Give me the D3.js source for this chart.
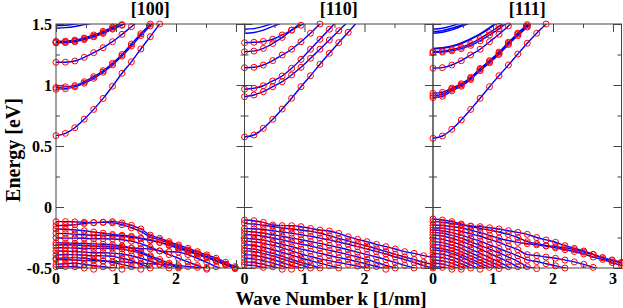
<!DOCTYPE html>
<html>
<head>
<meta charset="utf-8">
<script src="https://cdn.jsdelivr.net/npm/d3@7"></script>
<style>
body { margin: 0; background: #fff; }
text { font-family: "Liberation Serif", "Times New Roman", serif; font-weight: bold; fill: #000; }
</style>
</head>
<body>
<svg id="chart" width="623" height="308"></svg>
<script>
// k grid of the calculation, pi/20 step [1/nm]
var kGrid = [0, 0.157, 0.314, 0.471, 0.628, 0.785, 0.942, 1.1, 1.257, 1.414, 1.571,
    1.728, 1.885, 2.042, 2.199, 2.356, 2.513, 2.67, 2.827, 2.985, 3.142];

var panelNames = ["[100]", "[110]", "[111]"];
var yTicks = [-0.5, 0, 0.5, 1, 1.5];
var yTickLabels = ["-0.5", "0", "0.5", "1", "1.5"];
var xLabels = [[0, 1, 2], [0, 1, 2], [0, 1, 2, 3]];

// ---- [100] ----
var cond100 = [
    [0.585, 0.604, 0.65, 0.72, 0.80, 0.89, 0.99, 1.096, 1.19, 1.295, 1.396, 1.50, 1.60],
    [0.98, 0.985, 0.995, 1.027, 1.068, 1.117, 1.178, 1.25, 1.336, 1.42, 1.50, 1.58],
    [0.965, 0.97, 0.985, 1.015, 1.055, 1.105, 1.165, 1.237, 1.32, 1.405, 1.485, 1.57],
    [1.186, 1.187, 1.197, 1.227, 1.265, 1.306, 1.355, 1.415, 1.478, 1.54],
    [1.35, 1.352, 1.36, 1.38, 1.40, 1.43, 1.465, 1.495, 1.53],
    [1.358, 1.36, 1.368, 1.385, 1.41, 1.44, 1.475, 1.51],
    [1.345, 1.347, 1.355, 1.372, 1.395, 1.423, 1.458, 1.49, 1.53]
];
var plain100 = [
    [1.465, 1.47, 1.48, 1.495, 1.51],
    [1.488, 1.49, 1.5, 1.51]
];
var val100 = [
    [-0.12, -0.12, -0.122, -0.125, -0.128, -0.125, -0.12, -0.13, -0.15, -0.18, -0.23, -0.257, -0.284, -0.311, -0.339, -0.366, -0.393, -0.42, -0.453, -0.489, -0.52],
    [-0.153, -0.15, -0.145, -0.135, -0.128, -0.125, -0.13, -0.145, -0.17, -0.20, -0.245, -0.27, -0.297, -0.324, -0.352, -0.38, -0.407, -0.435, -0.468, -0.50],
    [-0.18, -0.182, -0.188, -0.195, -0.205, -0.215, -0.225, -0.232, -0.24, -0.255, -0.27, -0.29, -0.31, -0.335, -0.36, -0.385, -0.41, -0.44, -0.47, -0.50],
    [-0.216, -0.218, -0.222, -0.228, -0.232, -0.232, -0.235, -0.24, -0.25, -0.26, -0.275, -0.29, -0.315, -0.34, -0.365, -0.39, -0.415, -0.445, -0.475, -0.505],
    [-0.252, -0.255, -0.255, -0.258, -0.26, -0.26, -0.262, -0.268, -0.28, -0.30, -0.33, -0.36, -0.39, -0.42, -0.45, -0.48, -0.51],
    [-0.293, -0.295, -0.298, -0.30, -0.302, -0.305, -0.31, -0.32, -0.34, -0.37, -0.40, -0.43, -0.46, -0.49, -0.52],
    [-0.311, -0.31, -0.312, -0.315, -0.32, -0.322, -0.325, -0.33, -0.335, -0.34, -0.344, -0.36, -0.366, -0.37, -0.39, -0.42, -0.453, -0.489, -0.52],
    [-0.334, -0.335, -0.337, -0.34, -0.34, -0.338, -0.34, -0.345, -0.36, -0.38, -0.41, -0.448, -0.475, -0.50],
    [-0.36, -0.362, -0.365, -0.37, -0.375, -0.375, -0.378, -0.385, -0.40, -0.42, -0.445, -0.47, -0.50],
    [-0.393, -0.39, -0.39, -0.395, -0.40, -0.40, -0.405, -0.42, -0.44, -0.47, -0.50],
    [-0.42, -0.418, -0.415, -0.42, -0.43, -0.44, -0.455, -0.47, -0.49, -0.51],
    [-0.43, -0.432, -0.435, -0.438, -0.44, -0.443, -0.447, -0.45, -0.455, -0.46, -0.465, -0.47, -0.475, -0.48, -0.488, -0.495, -0.50],
    [-0.47, -0.465, -0.46, -0.47, -0.48, -0.49, -0.50, -0.51],
    [-0.49, -0.488, -0.49, -0.50, -0.51]
];

// ---- [110] ----
var cond110 = [
    [0.574, 0.59, 0.645, 0.719, 0.803, 0.891, 0.986, 1.076, 1.17, 1.26, 1.347, 1.432, 1.52],
    [0.965, 0.973, 0.994, 1.033, 1.074, 1.137, 1.21, 1.293, 1.375, 1.457, 1.54],
    [0.904, 0.918, 0.945, 0.986, 1.027, 1.082, 1.145, 1.219, 1.293, 1.369, 1.445, 1.52],
    [1.142, 1.145, 1.164, 1.2, 1.246, 1.293, 1.355, 1.424, 1.5, 1.57],
    [1.273, 1.278, 1.30, 1.34, 1.39, 1.45, 1.51],
    [1.347, 1.35, 1.357, 1.375, 1.41, 1.45, 1.49, 1.53]
];
var plain110 = [
    [1.424, 1.43, 1.45, 1.48, 1.51],
    [1.457, 1.462, 1.48, 1.505]
];
var val110 = [
    [-0.107, -0.112, -0.126, -0.148, -0.153, -0.153, -0.161, -0.175, -0.189, -0.197, -0.216, -0.243, -0.265, -0.284, -0.306, -0.325, -0.344, -0.366, -0.38, -0.399, -0.41],
    [-0.134, -0.14, -0.15, -0.16, -0.172, -0.18, -0.19, -0.2, -0.215, -0.235, -0.257, -0.278, -0.30, -0.32, -0.342, -0.365, -0.388, -0.41, -0.43, -0.453, -0.47],
    [-0.175, -0.178, -0.185, -0.195, -0.205, -0.215, -0.228, -0.24, -0.255, -0.27, -0.288, -0.305, -0.325, -0.345, -0.365, -0.385, -0.41, -0.43, -0.455, -0.48, -0.50],
    [-0.20, -0.205, -0.215, -0.228, -0.24, -0.255, -0.268, -0.283, -0.298, -0.315, -0.332, -0.35, -0.37, -0.39, -0.41, -0.432, -0.455, -0.478, -0.50, -0.52],
    [-0.225, -0.23, -0.24, -0.255, -0.27, -0.288, -0.305, -0.32, -0.338, -0.355, -0.372, -0.39, -0.41, -0.43, -0.455, -0.478, -0.50, -0.52],
    [-0.257, -0.262, -0.272, -0.288, -0.305, -0.325, -0.345, -0.362, -0.38, -0.398, -0.415, -0.43, -0.448, -0.468, -0.488, -0.51],
    [-0.28, -0.285, -0.298, -0.315, -0.335, -0.36, -0.385, -0.405, -0.425, -0.44, -0.455, -0.47, -0.485, -0.50, -0.52],
    [-0.31, -0.315, -0.33, -0.35, -0.372, -0.395, -0.418, -0.44, -0.46, -0.48, -0.50, -0.52],
    [-0.339, -0.345, -0.36, -0.38, -0.405, -0.43, -0.455, -0.475, -0.50, -0.52],
    [-0.36, -0.365, -0.38, -0.40, -0.425, -0.45, -0.475, -0.50, -0.52],
    [-0.39, -0.395, -0.41, -0.43, -0.455, -0.48, -0.50, -0.52],
    [-0.42, -0.425, -0.44, -0.46, -0.485, -0.51],
    [-0.45, -0.455, -0.47, -0.49, -0.51],
    [-0.475, -0.48, -0.495, -0.515]
];

// ---- [111] ----
var cond111 = [
    [0.563, 0.582, 0.637, 0.713, 0.80, 0.891, 0.986, 1.076, 1.164, 1.254, 1.342, 1.424, 1.5, 1.58],
    [0.932, 0.94, 0.975, 1.01, 1.062, 1.135, 1.2, 1.27, 1.35, 1.425, 1.495, 1.57],
    [0.912, 0.924, 0.965, 1.0, 1.055, 1.129, 1.191, 1.26, 1.342, 1.416, 1.484, 1.56],
    [0.896, 0.908, 0.952, 0.99, 1.045, 1.118, 1.182, 1.25, 1.332, 1.405, 1.475, 1.55],
    [1.137, 1.142, 1.164, 1.199, 1.246, 1.293, 1.355, 1.416, 1.484, 1.56],
    [1.273, 1.278, 1.29, 1.31, 1.34, 1.38, 1.43, 1.48, 1.54],
    [1.265, 1.27, 1.28, 1.298, 1.325, 1.362, 1.41, 1.46, 1.52]
];
var plain111 = [
    [1.30, 1.305, 1.32, 1.345, 1.38, 1.42, 1.47, 1.53],
    [1.295, 1.30, 1.315, 1.34, 1.375, 1.415, 1.465, 1.52],
    [1.424, 1.432, 1.452, 1.48, 1.51],
    [1.437, 1.445, 1.465, 1.49, 1.52],
    [1.457, 1.465, 1.485, 1.51]
];
var val111 = [
    [-0.098, -0.107, -0.12, -0.139, -0.156, -0.161, -0.17, -0.18, -0.194, -0.208, -0.224, -0.25, -0.27, -0.289, -0.317, -0.339, -0.361, -0.388, -0.416, -0.434, -0.453],
    [-0.12, -0.125, -0.135, -0.148, -0.16, -0.175, -0.19, -0.205, -0.225, -0.25, -0.284, -0.3, -0.315, -0.325, -0.335, -0.35, -0.37, -0.39, -0.415, -0.44, -0.461],
    [-0.148, -0.152, -0.16, -0.172, -0.19, -0.21, -0.232, -0.256, -0.275, -0.29, -0.3, -0.31, -0.32, -0.335, -0.35, -0.365, -0.385, -0.41, -0.43, -0.455, -0.48],
    [-0.17, -0.175, -0.185, -0.2, -0.22, -0.24, -0.265, -0.29, -0.32, -0.35, -0.39, -0.398, -0.41, -0.42, -0.435, -0.45, -0.47, -0.495, -0.52],
    [-0.189, -0.195, -0.21, -0.23, -0.255, -0.28, -0.31, -0.34, -0.37, -0.40, -0.434, -0.447, -0.465, -0.482, -0.50, -0.52],
    [-0.208, -0.215, -0.232, -0.255, -0.285, -0.315, -0.345, -0.375, -0.41, -0.445, -0.489, -0.505],
    [-0.23, -0.238, -0.256, -0.282, -0.31, -0.345, -0.38, -0.415, -0.45, -0.49, -0.52],
    [-0.257, -0.265, -0.285, -0.312, -0.345, -0.38, -0.415, -0.45, -0.49, -0.52],
    [-0.284, -0.292, -0.312, -0.34, -0.375, -0.41, -0.445, -0.48, -0.515],
    [-0.306, -0.315, -0.335, -0.365, -0.40, -0.435, -0.47, -0.505],
    [-0.334, -0.342, -0.362, -0.392, -0.425, -0.46, -0.495, -0.53],
    [-0.352, -0.36, -0.38, -0.41, -0.445, -0.48, -0.515],
    [-0.38, -0.388, -0.408, -0.44, -0.475, -0.51],
    [-0.407, -0.415, -0.435, -0.465, -0.50],
    [-0.434, -0.442, -0.462, -0.49, -0.52],
    [-0.461, -0.468, -0.488, -0.51],
    [-0.489, -0.495, -0.51]
];

var panels = [
    { dots: cond100.concat(val100), plain: plain100 },
    { dots: cond110.concat(val110), plain: plain110 },
    { dots: cond111.concat(val111), plain: plain111 }
];

var svg = d3.select("#chart");
var plotLeft = 56, plotTop = 24, pw = 188.5, ph = 244;

var y = d3.scaleLinear().domain([-0.5, 1.5]).range([plotTop + ph, plotTop]);

panels.forEach(function(p, pi) {
    var x0 = plotLeft + pi * pw;
    var x = d3.scaleLinear().domain([0, 3.142]).range([x0, x0 + pw]);
    var g = svg.append("g");

    g.append("clipPath").attr("id", "clip" + pi)
        .append("rect").attr("x", x0).attr("y", plotTop).attr("width", pw).attr("height", ph);

    var line = d3.line()
        .x(function(d, i) { return x(kGrid[i]); })
        .y(function(d) { return y(d); })
        .curve(d3.curveMonotoneX);

    var lines = g.append("g").attr("clip-path", "url(#clip" + pi + ")");
    lines.selectAll("path.band")
        .data(p.plain.concat(p.dots))
        .enter().append("path")
        .attr("class", "band")
        .attr("d", line)
        .attr("fill", "none")
        .attr("stroke", "#0000ff")
        .attr("stroke-width", 1.4);

    // red circles on each computed point
    var pts = [];
    p.dots.forEach(function(band) {
        band.forEach(function(v, i) {
            if (v >= -0.51 && v <= 1.505) pts.push({ k: kGrid[i], e: v });
        });
    });
    g.append("g").selectAll("circle")
        .data(pts)
        .enter().append("circle")
        .attr("cx", function(d) { return x(d.k); })
        .attr("cy", function(d) { return y(d.e); })
        .attr("r", 3)
        .attr("fill", "none")
        .attr("stroke", "#ff0000")
        .attr("stroke-width", 1);

    // axes, ticks pointing inward on all four sides
    var xMajor = [0, 1, 2, 3], xMinor = [0.5, 1.5, 2.5];
    var yMinor = [-0.25, 0.25, 0.75, 1.25];
    var axes = g.append("g").attr("class", "axes");

    function addX(gen, ty, vals, len) {
        axes.append("g").attr("transform", "translate(0," + ty + ")")
            .call(gen(x).tickValues(vals).tickSize(-len).tickFormat(""));
    }
    function addY(gen, tx, vals, len) {
        axes.append("g").attr("transform", "translate(" + tx + ",0)")
            .call(gen(y).tickValues(vals).tickSize(-len).tickFormat(""));
    }
    addX(d3.axisBottom, plotTop + ph, xMajor, 8);
    addX(d3.axisBottom, plotTop + ph, xMinor, 4);
    addX(d3.axisTop, plotTop, xMajor, 8);
    addX(d3.axisTop, plotTop, xMinor, 4);
    addY(d3.axisLeft, x0, yTicks, 8);
    addY(d3.axisLeft, x0, yMinor, 4);
    addY(d3.axisRight, x0 + pw, yTicks, 8);
    addY(d3.axisRight, x0 + pw, yMinor, 4);
    axes.selectAll(".domain").remove();
    axes.selectAll("line").attr("stroke", "#444");

    g.append("rect")
        .attr("x", x0).attr("y", plotTop).attr("width", pw).attr("height", ph)
        .attr("fill", "none").attr("stroke", "#444").attr("stroke-width", 1);

    g.selectAll("text.xl")
        .data(xLabels[pi])
        .enter().append("text")
        .attr("class", "xl")
        .attr("x", function(d) { return x(d); })
        .attr("y", 284)
        .attr("text-anchor", "middle")
        .style("font-size", "16px")
        .text(function(d) { return d; });

    g.append("text")
        .attr("x", x0 + pw / 2)
        .attr("y", 15)
        .attr("text-anchor", "middle")
        .style("font-size", "18px")
        .text(panelNames[pi]);
});

svg.selectAll("text.yl")
    .data(yTicks)
    .enter().append("text")
    .attr("class", "yl")
    .attr("x", 52)
    .attr("y", function(d) { return y(d); })
    .attr("dy", "0.35em")
    .attr("text-anchor", "end")
    .style("font-size", "16px")
    .text(function(d, i) { return yTickLabels[i]; });

svg.append("text")
    .attr("transform", "translate(20,150) rotate(-90)")
    .attr("text-anchor", "middle")
    .style("font-size", "20px")
    .text("Energy [eV]");

svg.append("text")
    .attr("x", 331)
    .attr("y", 305)
    .attr("text-anchor", "middle")
    .style("font-size", "19px")
    .text("Wave Number k [1/nm]");
</script>
</body>
</html>
